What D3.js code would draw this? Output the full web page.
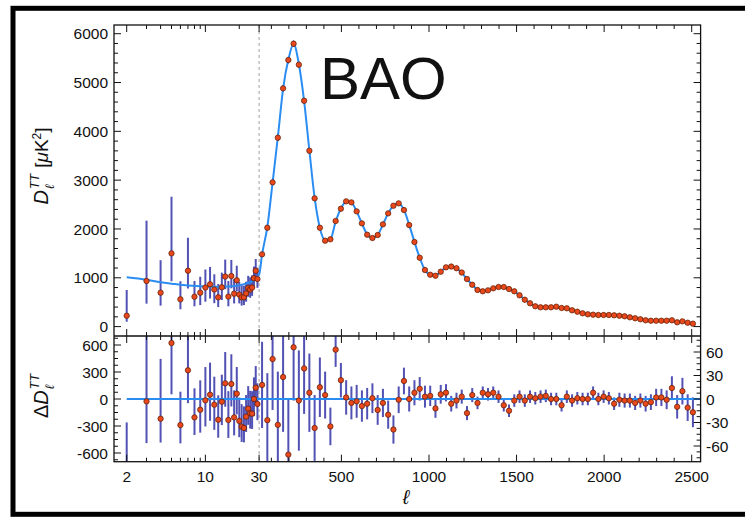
<!DOCTYPE html>
<html>
<head>
<meta charset="utf-8">
<script src="https://cdnjs.cloudflare.com/ajax/libs/d3/7.8.5/d3.min.js"></script>
<style>
  body { margin: 0; background: #fff; }
  svg { display: block; }
  text { font-family: "Liberation Sans", Arial, Helvetica, sans-serif; fill: #111; }
</style>
</head>
<body>
<div id="chart"></div>
<script>
//=================== DATA ====================================
// low-ell points (unbinned)
var lowEll = [2, 3, 4, 5, 6, 7, 8, 9, 10, 11, 12, 13, 14, 15, 16, 17, 18, 19, 20, 21, 22, 23, 24, 25, 26, 27, 28, 29];
var lowD = [223, 934, 695, 1500, 559, 1145, 612, 695, 800, 866, 760, 600, 805, 1025, 615, 1035, 674, 950, 655, 600, 600, 680, 790, 760, 800, 990, 1145, 975];
var lowErrLo = [123, 464, 265, 570, 204, 365, 196, 255, 290, 290, 280, 200, 260, 260, 200, 250, 200, 230, 180, 170, 160, 170, 180, 170, 170, 190, 190, 180];
var lowErrHi = [527, 1236, 665, 1160, 370, 675, 323, 326, 370, 356, 311, 271, 300, 348, 320, 330, 300, 297, 260, 250, 240, 240, 250, 250, 250, 240, 240, 230];
var lowRes = [-787, -26, -219, 622, -289, 319, -204, -119, -15, 48, -63, -230, -30, 174, -233, 167, -204, 59, -244, -307, -322, -196, -107, -159, -163, 0, 126, -56];

// high-ell binned points (bins of 30)
var highEll = [47, 77, 107, 137, 167, 197, 227, 257, 287, 317, 347, 377, 407, 437, 467, 497, 527, 557, 587, 617,
  647, 677, 707, 737, 767, 797, 827, 857, 887, 917, 947, 977, 1007, 1037, 1067, 1097, 1127, 1157, 1187, 1217,
  1247, 1277, 1307, 1337, 1367, 1397, 1427, 1457, 1487, 1517, 1547, 1577, 1607, 1637, 1667, 1697, 1727, 1757, 1787, 1817,
  1847, 1877, 1907, 1937, 1967, 1997, 2027, 2057, 2087, 2117, 2147, 2177, 2207, 2237, 2267, 2297, 2327, 2357, 2387, 2417,
  2447, 2477, 2507];
var highD = [1480, 2025, 2955, 3870, 4880, 5460, 5795, 5365, 4627, 3602, 2627, 2025, 1760, 1788, 2163, 2415, 2566, 2545, 2361, 2115,
  1882, 1815, 1876, 2095, 2320, 2476, 2525, 2388, 2080, 1733, 1411, 1159, 1063, 1042, 1124, 1214, 1230, 1196, 1108, 975,
  858, 750, 723, 743, 784, 811, 811, 770, 723, 641, 551, 477, 416, 395, 395, 395, 408, 381, 375, 334,
  305, 272, 252, 244, 238, 238, 238, 231, 223, 211, 190, 170, 150, 129, 121, 121, 121, 121, 129, 88,
  108, 80, 60];
var highRes = [18, -27, 51, -33, 28, -71, 66, -2, 39, 8, -37, 15, 5, -35, 63, 24, 2, -5, -3, -9,
  -6, 1, -14, -5, -20, -39, -1, 23, 0, 8, 13, 3, 4, -12, 6, 8, -6, -2, 3, -18,
  5, -5, 8, 6, 8, 3, -8, -15, -2, 3, -2, 3, 1, 3, 4, 0, 0, -8, 3, -2,
  1, 0, 0, 8, 0, 3, 1, -6, -1, -2, -2, -5, -2, -6, -4, 2, 2, -1, 14, -10,
  10, -11, -17];
var highErr = [55, 60, 65, 68, 70, 70, 68, 64, 58, 50, 42, 38, 30, 24, 22, 22, 22, 21, 21, 20,
  20, 19, 19, 18, 18, 18, 17, 17, 16, 16, 15, 14, 13, 12, 12, 11, 10, 10, 9, 9,
  9, 8, 8, 8, 8, 8, 8, 8, 8, 8, 8, 8, 8, 8, 8, 8, 8, 8, 8, 8,
  8, 8, 8, 8, 8, 8, 8, 8, 9, 9, 9, 9, 9, 10, 10, 11, 11, 12, 15, 15,
  17, 17, 19];

// best-fit model curve
var modelEll = [2, 3, 4, 5, 7, 10, 14, 18, 22, 26, 30].concat(highEll);
var modelD = [1010, 960, 910, 880, 840, 820, 815, 830, 870, 930, 1060,
  1480, 2040, 2950, 3880, 4870, 5470, 5790, 5380, 4620, 3610, 2640, 2020, 1770, 1790, 2150, 2420, 2560, 2540, 2360, 2110,
  1890, 1815, 1880, 2090, 2320, 2475, 2520, 2390, 2085, 1735, 1410, 1160, 1060, 1045, 1125, 1210, 1232, 1195, 1105, 975,
  858, 755, 725, 745, 785, 810, 808, 770, 722, 642, 553, 478, 420, 398, 395, 396, 398, 385, 370, 338,
  305, 275, 255, 245, 240, 238, 236, 231, 223, 210, 190, 170, 150, 133, 124, 121, 120, 118, 112, 104,
  95, 85, 75];

// tick values
var logTicks = [2, 3, 4, 5, 6, 7, 8, 9, 10, 20, 30];
var xLabels = [2, 10, 30, 500, 1000, 1500, 2000, 2500];
var topYLabels = [0, 1000, 2000, 3000, 4000, 5000, 6000];
var resLeftLabels = [600, 300, 0, -300, -600];
var resRightLabels = [60, 30, 0, -30, -60];

//=================== LAYOUT ====================================
var W = 745, H = 517;
var plotLeft = 114, plotRight = 700.6, plotTop = 25, plotMid = 336, plotBottom = 461.7;

var svg = d3.select("#chart").append("svg").attr("width", W).attr("height", H);
svg.append("rect").attr("width", W).attr("height", H).attr("fill", "#fff");

// outer black frame
svg.append("rect").attr("x", 13).attr("y", 8.3).attr("width", 800).attr("height", 506)
  .attr("fill", "none").attr("stroke", "#000").attr("stroke-width", 5);

// hybrid x scale: log below 30, linear above
var xLog = d3.scaleLog().domain([2, 30]).range([126.7, 259.1]);
var xLin = d3.scaleLinear().domain([30, 2500]).range([259.1, 691.7]);
function x(l) { return l <= 30 ? xLog(l) : xLin(l); }

var yTop = d3.scaleLinear().domain([0, 6000]).range([326.6, 33.7]);
var yResLo = d3.scaleLinear().domain([-600, 600]).range([453, 345]);
var yResHi = d3.scaleLinear().domain([-60, 60]).range([446, 352]);

var blue = "#2a8df2", barCol = "#3434a8", dotFill = "#e8481c", dotStroke = "#5a1a00";
var dotR = 2.7;

var defs = svg.append("defs");
defs.append("clipPath").attr("id", "clipTop").append("rect")
  .attr("x", plotLeft).attr("y", plotTop).attr("width", plotRight - plotLeft).attr("height", plotMid - plotTop);
defs.append("clipPath").attr("id", "clipBot").append("rect")
  .attr("x", plotLeft).attr("y", plotMid).attr("width", plotRight - plotLeft).attr("height", plotBottom - plotMid);

// dashed line at ell = 30
svg.append("line").attr("x1", x(30)).attr("x2", x(30)).attr("y1", plotTop).attr("y2", plotBottom)
  .attr("stroke", "#a0a0a0").attr("stroke-width", 1).attr("stroke-dasharray", "3,3");

var gTop = svg.append("g").attr("clip-path", "url(#clipTop)");
var gBot = svg.append("g").attr("clip-path", "url(#clipBot)");

//=================== TOP PANEL ====================================
var lowPts = lowEll.map(function (l, i) {
  return { l: l, d: lowD[i], lo: lowErrLo[i], hi: lowErrHi[i], r: lowRes[i] };
});
var highPts = highEll.map(function (l, i) {
  return { l: l, d: highD[i], e: highErr[i], r: highRes[i] };
});

var modelLine = d3.line()
  .x(function (d) { return x(d[0]); })
  .y(function (d) { return yTop(d[1]); })
  .curve(d3.curveMonotoneX);

gTop.selectAll("line.lowbar").data(lowPts).enter().append("line")
  .attr("x1", function (d) { return x(d.l); }).attr("x2", function (d) { return x(d.l); })
  .attr("y1", function (d) { return yTop(d.d - d.lo); })
  .attr("y2", function (d) { return yTop(d.d + d.hi); })
  .attr("stroke", barCol).attr("stroke-width", 2).attr("opacity", 0.85);

gTop.selectAll("line.highbar").data(highPts).enter().append("line")
  .attr("x1", function (d) { return x(d.l); }).attr("x2", function (d) { return x(d.l); })
  .attr("y1", function (d) { return yTop(d.d - d.e); })
  .attr("y2", function (d) { return yTop(d.d + d.e); })
  .attr("stroke", barCol).attr("stroke-width", 1.5);

gTop.append("path")
  .datum(modelEll.map(function (l, i) { return [l, modelD[i]]; }))
  .attr("d", modelLine).attr("fill", "none").attr("stroke", blue).attr("stroke-width", 2);

gTop.selectAll("circle").data(lowPts.concat(highPts)).enter().append("circle")
  .attr("cx", function (d) { return x(d.l); })
  .attr("cy", function (d) { return yTop(d.d); })
  .attr("r", dotR).attr("fill", dotFill).attr("stroke", dotStroke).attr("stroke-width", 0.7);

//=================== RESIDUAL PANEL ====================================
gBot.selectAll("line.lowbar").data(lowPts).enter().append("line")
  .attr("x1", function (d) { return x(d.l); }).attr("x2", function (d) { return x(d.l); })
  .attr("y1", function (d) { return yResLo(d.r - d.lo); })
  .attr("y2", function (d) { return yResLo(d.r + d.hi); })
  .attr("stroke", barCol).attr("stroke-width", 2).attr("opacity", 0.85);

gBot.selectAll("line.highbar").data(highPts).enter().append("line")
  .attr("x1", function (d) { return x(d.l); }).attr("x2", function (d) { return x(d.l); })
  .attr("y1", function (d) { return yResHi(d.r - d.e); })
  .attr("y2", function (d) { return yResHi(d.r + d.e); })
  .attr("stroke", barCol).attr("stroke-width", 2).attr("opacity", 0.85);

gBot.append("line").attr("x1", x(2)).attr("x2", plotRight).attr("y1", yResLo(0)).attr("y2", yResLo(0))
  .attr("stroke", blue).attr("stroke-width", 2);

gBot.selectAll("circle.low").data(lowPts).enter().append("circle")
  .attr("cx", function (d) { return x(d.l); })
  .attr("cy", function (d) { return yResLo(d.r); })
  .attr("r", dotR).attr("fill", dotFill).attr("stroke", dotStroke).attr("stroke-width", 0.7);

gBot.selectAll("circle.high").data(highPts).enter().append("circle")
  .attr("cx", function (d) { return x(d.l); })
  .attr("cy", function (d) { return yResHi(d.r); })
  .attr("r", dotR).attr("fill", dotFill).attr("stroke", dotStroke).attr("stroke-width", 0.7);

//=================== AXES ====================================
var axes = svg.append("g").attr("stroke", "#111").attr("stroke-width", 1);

// panel boxes
axes.append("rect").attr("x", plotLeft).attr("y", plotTop)
  .attr("width", plotRight - plotLeft).attr("height", plotBottom - plotTop)
  .attr("fill", "none").attr("stroke-width", 1.3);
axes.append("line").attr("x1", plotLeft).attr("x2", plotRight).attr("y1", plotMid).attr("y2", plotMid)
  .attr("stroke-width", 1.3);

// x ticks on all four horizontal edges
var xTickList = logTicks.map(function (l) { return { l: l, major: l === 2 || l === 10 || l === 30 }; })
  .concat(d3.range(100, 2501, 100).map(function (l) { return { l: l, major: l % 500 === 0 }; }));

function xTicks(y0, dir) {
  axes.selectAll(null).data(xTickList).enter().append("line")
    .attr("x1", function (d) { return x(d.l); }).attr("x2", function (d) { return x(d.l); })
    .attr("y1", y0).attr("y2", function (d) { return y0 + dir * (d.major ? 7 : 4); });
}
xTicks(plotTop, 1);
xTicks(plotMid, -1);
xTicks(plotMid, 1);
xTicks(plotBottom, -1);

function yTicks(scale, lo, hi, step, majorStep, x0, dir) {
  var vals = d3.range(Math.ceil(lo / step) * step, hi + 1e-6, step);
  axes.selectAll(null).data(vals).enter().append("line")
    .attr("x1", x0)
    .attr("x2", function (v) {
      var isMajor = Math.abs(v / majorStep - Math.round(v / majorStep)) < 1e-6;
      return x0 + dir * (isMajor ? 7 : 4);
    })
    .attr("y1", scale).attr("y2", scale);
}
yTicks(yTop, -190, 6180, 200, 1000, plotLeft, 1);
yTicks(yTop, -190, 6180, 200, 1000, plotRight, -1);
yTicks(yResLo, -690, 690, 75, 300, plotLeft, 1);
yTicks(yResHi, -79, 79, 7.5, 30, plotRight, -1);

// tick labels
var labels = svg.append("g").attr("font-size", 15.5);

labels.selectAll(null).data(topYLabels).enter().append("text")
  .attr("x", 108).attr("y", function (v) { return yTop(v); }).attr("dy", "0.36em")
  .attr("text-anchor", "end").text(function (v) { return v; });

labels.selectAll(null).data(resLeftLabels).enter().append("text")
  .attr("x", 108).attr("y", function (v) { return yResLo(v); }).attr("dy", "0.36em")
  .attr("text-anchor", "end").text(function (v) { return v; });

labels.selectAll(null).data(resRightLabels).enter().append("text")
  .attr("x", 706).attr("y", function (v) { return yResHi(v); }).attr("dy", "0.36em")
  .attr("text-anchor", "start").text(function (v) { return v; });

labels.selectAll(null).data(xLabels).enter().append("text")
  .attr("x", function (v) { return x(v); }).attr("y", 482)
  .attr("text-anchor", "middle").text(function (v) { return v; });

// x axis title
svg.append("text").attr("x", 406).attr("y", 504).attr("text-anchor", "middle")
  .attr("font-family", "'Liberation Serif','DejaVu Serif',serif").attr("font-style", "italic")
  .attr("font-size", 20).text("ℓ");

// y axis titles (rotated, built from parts)
function mathLabel(cx, cy, prefix, withUnit) {
  var g = svg.append("g").attr("transform", "translate(" + cx + "," + cy + ") rotate(-90)");
  var serif = "'Liberation Serif','DejaVu Serif',serif";
  var main = g.append("text").attr("font-family", serif).attr("font-size", 20).attr("y", 6);
  if (prefix) main.append("tspan").text(prefix);
  main.append("tspan").attr("font-style", "italic").text("D");
  var w1 = main.node().getComputedTextLength();
  var sup = g.append("text").attr("font-family", serif).attr("font-style", "italic").attr("font-size", 12.5)
    .attr("x", w1 + 1).attr("y", -3).text("TT");
  g.append("text").attr("font-family", serif).attr("font-style", "italic").attr("font-size", 12.5)
    .attr("x", w1 + 1).attr("y", 12).text("ℓ");
  var total = w1 + 1 + sup.node().getComputedTextLength();
  if (withUnit) {
    var u = g.append("text").attr("font-family", serif).attr("font-size", 19).attr("x", total + 6).attr("y", 6);
    u.append("tspan").text("[");
    u.append("tspan").attr("font-style", "italic").text("μ");
    u.append("tspan").text("K");
    u.append("tspan").attr("font-size", 12).attr("dy", -7).text("2");
    u.append("tspan").attr("dy", 7).text("]");
    total = total + 6 + u.node().getComputedTextLength();
  }
  g.selectAll("text").attr("transform", "translate(" + (-total / 2) + ",0)");
}
mathLabel(42, 166, "", true);
mathLabel(42, 396, "Δ", false);

// annotation
svg.append("text").attr("x", 320).attr("y", 99).attr("font-size", 60).text("BAO");
</script>
</body>
</html>
